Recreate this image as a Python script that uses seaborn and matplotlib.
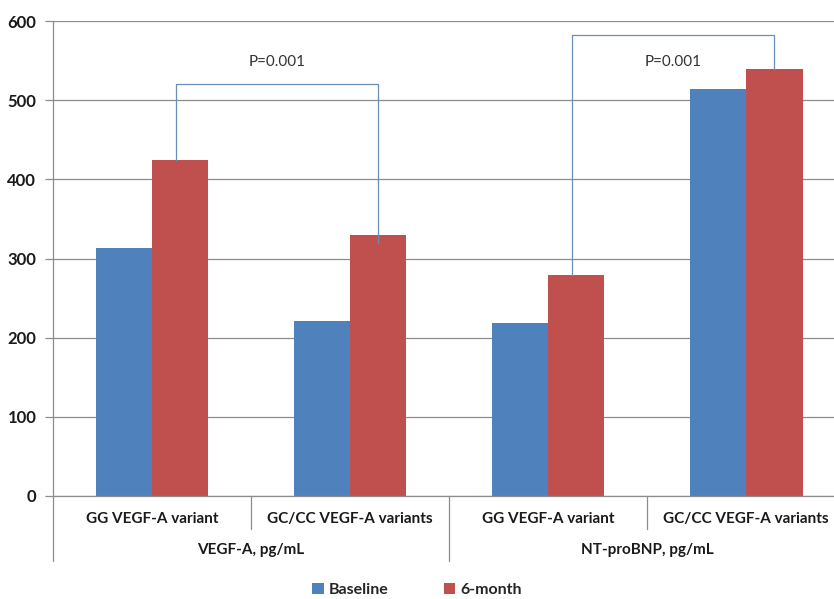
import matplotlib
matplotlib.use("Agg")
import matplotlib.pyplot as plt
import matplotlib.transforms as mtransforms
from matplotlib.lines import Line2D
from matplotlib.patches import Patch
import seaborn as sns
import pandas as pd

# ---- data ----
subcategories = ["GG VEGF-A variant", "GC/CC VEGF-A variants",
                 "GG VEGF-A variant", "GC/CC VEGF-A variants"]
groups = ["VEGF-A, pg/mL", "NT-proBNP, pg/mL"]
series = ["Baseline", "6-month"]
baseline = [313, 221, 218, 514]
six_month = [424, 330, 279, 539]
yticks = [0, 100, 200, 300, 400, 500, 600]
p_labels = ["P=0.001", "P=0.001"]
# bracket: (left x, right x, top y, left bottom y, right bottom y)
brackets = [(0.12, 1.14, 521, 424, 320), (2.12, 3.14, 582, 279, 539)]
p_text_y = [548, 548]

colors = ["#4F81BD", "#C0504D"]

rows = []
for i, sub in enumerate(subcategories):
    rows.append({"pos": i, "series": series[0], "value": baseline[i]})
    rows.append({"pos": i, "series": series[1], "value": six_month[i]})
df = pd.DataFrame(rows)

sns.set_style("white")
plt.rcParams["font.family"] = ["Lato", "DejaVu Sans"]

fig = plt.figure(figsize=(8.34, 5.99), dpi=100)
ax = fig.add_axes([53 / 834, (599 - 496) / 599, 1 - 53 / 834, (496 - 21) / 599])

sns.barplot(data=df, x="pos", y="value", hue="series", palette=colors,
            width=0.57, gap=0, saturation=1, ax=ax, legend=False,
            order=[0, 1, 2, 3], hue_order=series)
for p in ax.patches:
    p.set_linewidth(0)

ax.set_xlim(-0.5, 3.444)
ax.set_ylim(0, 600)
ax.set_yticks(yticks)
ax.set_yticklabels([str(t) for t in yticks], fontweight="bold", fontsize=12, color="#1a1a1a")
ax.set_xticks([])
ax.set_xlabel("")
ax.set_ylabel("")
ax.grid(axis="y", color="#8c8c8c", linewidth=0.9)
ax.set_axisbelow(True)
for s in ["top", "right"]:
    ax.spines[s].set_visible(False)
ax.spines["left"].set_color("#8c8c8c")
ax.spines["bottom"].set_color("#8c8c8c")
ax.spines["left"].set_linewidth(0.9)
ax.spines["bottom"].set_linewidth(0.9)
ax.tick_params(axis="y", which="both", left=True, length=6, width=0.9, color="#8c8c8c", pad=6)

# category labels and separators
tr = mtransforms.blended_transform_factory(ax.transData, fig.transFigure)
def fy(px):
    return (599 - px) / 599
for i, sub in enumerate(subcategories):
    ax.text(i, fy(519), sub, transform=tr, ha="center", va="center",
            fontsize=11, fontweight="bold", color="#1a1a1a")
for gi, g in enumerate(groups):
    ax.text(gi * 2 + 0.5, fy(550), g, transform=tr, ha="center", va="center",
            fontsize=11, fontweight="bold", color="#1a1a1a")
for xs, bottom in [(-0.5, 561), (0.5, 529), (1.5, 561), (2.5, 529)]:
    ax.add_line(Line2D([xs, xs], [fy(496), fy(bottom)], transform=tr,
                       color="#8c8c8c", linewidth=0.9, clip_on=False))

# brackets
bcol = "#6a8fb8"
for (xl, xr, top, yl, yr), lab, ty in zip(brackets, p_labels, p_text_y):
    ax.plot([xl, xl, xr, xr], [yl, top, top, yr], color=bcol, linewidth=0.9)
    ax.text((xl + xr) / 2, ty, lab, ha="center", va="center", fontsize=11, color="#333333")

# legend
handles = [Patch(facecolor=c, edgecolor="none") for c in colors]
leg = fig.legend(handles, series, loc="center", bbox_to_anchor=(0.5, fy(590)), ncol=2,
                 frameon=False, handlelength=0.7, handleheight=0.7, handletextpad=0.3,
                 columnspacing=3.5, prop={"weight": "bold", "size": 11.5})

fig.savefig("out.png", dpi=100)
